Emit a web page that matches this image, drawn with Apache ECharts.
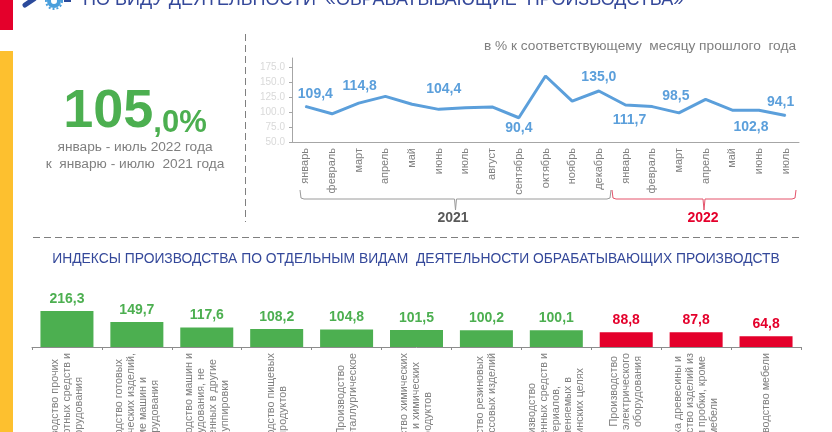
<!DOCTYPE html>
<html>
<head>
<meta charset="utf-8">
<style>
html, body { margin: 0; padding: 0; background: #fff; overflow: hidden; }
#main { width: 832px; height: 432px; }
</style>
<script src="https://cdn.jsdelivr.net/npm/echarts@6/dist/echarts.min.js"></script>
</head>
<body>
<div id="main"></div>
<script>
var months = ['январь', 'февраль', 'март', 'апрель', 'май', 'июнь', 'июль', 'август', 'сентябрь', 'октябрь', 'ноябрь', 'декабрь',
    'январь', 'февраль', 'март', 'апрель', 'май', 'июнь', 'июль'];
var monthValues = [109.4, 97, 114.8, 126, 113, 104.4, 107, 108.5, 90.4, 160, 118, 135, 111.7, 109, 98.5, 121, 103, 102.8, 94.1];
var industries = [
    'Производство прочих\nтранспортных средств и\nоборудования',
    'Производство готовых\nметаллических изделий,\nкроме машин и\nоборудования',
    'Производство машин и\nоборудования, не\nвключенных в другие\nгруппировки',
    'Производство пищевых\nпродуктов',
    'Производство\nметаллургическое',
    'Производство химических\nвеществ и химических\nпродуктов',
    'Производство резиновых\nи пластмассовых изделий',
    'Производство\nлекарственных средств и\nматериалов,\nприменяемых в\nмедицинских целях',
    'Производство\nэлектрического\nоборудования',
    'Обработка древесины и\nпроизводство изделий из\nдерева и пробки, кроме\nмебели',
    'Производство мебели'
];
var industryValues = [216.3, 149.7, 117.6, 108.2, 104.8, 101.5, 100.2, 100.1, 88.8, 87.8, 64.8];

var BLUE = '#5b9fdb', GREEN = '#4caf50', RED = '#e4002b', GRAY = '#7f7f7f', NAVY = '#34489a';

// where the labelled points put their text: month index -> [dx, dy]
var monthLabelSpots = {
    0: [10, -12], 2: [1, -17], 5: [5, -20], 8: [0, 10], 11: [0, -14],
    12: [4, 15], 14: [-3, -17], 17: [-8, 17], 18: [-5, -13]
};

function comma(v) {
    return v.toFixed(1).replace('.', ',');
}

// rotated labels hang from the axis, short lines sit centred under the longest one
var measure = document.createElement('canvas').getContext('2d');
measure.font = '10.8px "Liberation Sans"';
function centerLines(text) {
    var lines = text.split('\n');
    var widths = lines.map(function(l) { return measure.measureText(l).width; });
    var longest = Math.max.apply(null, widths);
    var space = measure.measureText('\u00a0').width;
    return lines.map(function(l, i) {
        var n = Math.round((longest - widths[i]) / 2 / space);
        return l + new Array(n + 1).join('\u00a0');
    }).join('\n');
}

var monthData = monthValues.map(function(v, i) {
    if (!monthLabelSpots[i]) {
        return v;
    }
    return {
        value: v,
        label: {
            show: true,
            position: 'inside',
            formatter: comma(v)
        }
    };
});

var barData = industryValues.map(function(v) {
    var c = v < 100 ? RED : GREEN;
    return {
        value: v,
        itemStyle: { color: c },
        label: { color: c }
    };
});

function bracket(x1, x2, color) {
    var mid = (x1 + x2) / 2;
    return {
        type: 'polyline',
        silent: true,
        shape: { points: [[x1, 190], [x1 + 1, 198], [x1 + 4, 199], [mid - 1, 199], [mid, 210], [mid + 1, 199], [x2 - 4, 199], [x2 - 1, 198], [x2, 190]] },
        style: { stroke: color, fill: null, lineWidth: 1 }
    };
}

function txt(x, y, text, font, color, align) {
    return {
        type: 'text',
        silent: true,
        x: x,
        y: y,
        style: { text: text, font: font, fill: color, align: align || 'center', verticalAlign: 'middle' }
    };
}

var chart = echarts.init(document.getElementById('main'), null, { renderer: 'canvas' });
chart.setOption({
    animation: false,
    backgroundColor: '#fff',
    textStyle: { fontFamily: '"Liberation Sans", Arial, sans-serif' },
    grid: [
        { left: 292, top: 58, width: 507, height: 84, outerBoundsMode: 'none' },
        { left: 32, top: 297, width: 769, height: 50, outerBoundsMode: 'none' }
    ],
    xAxis: [{
        type: 'category',
        gridIndex: 0,
        data: months,
        axisTick: { show: false },
        axisLine: { lineStyle: { color: '#a6a6a6' } },
        axisLabel: { interval: 0, rotate: 90, margin: 6, fontSize: 11, color: GRAY }
    }, {
        type: 'category',
        gridIndex: 1,
        data: industries,
        axisTick: { show: true, length: 3, alignWithLabel: false, lineStyle: { color: '#8c8c8c' } },
        axisLine: { lineStyle: { color: '#8c8c8c' } },
        axisLabel: {
            interval: 0,
            rotate: 90,
            margin: 6,
            fontSize: 10.8,
            lineHeight: 12,
            color: GRAY,
            hideOverlap: false,
            formatter: centerLines
        }
    }],
    yAxis: [{
        type: 'value',
        gridIndex: 0,
        min: 50,
        max: 190,
        interval: 25,
        splitLine: { show: false },
        axisLine: { show: true, lineStyle: { color: '#a6a6a6' } },
        axisTick: { show: true, length: 3, lineStyle: { color: '#a6a6a6' } },
        axisLabel: {
            fontSize: 10,
            margin: 7,
            color: '#d9d9d9',
            showMaxLabel: false,
            formatter: function(v) { return v.toFixed(1); }
        }
    }, {
        type: 'value',
        gridIndex: 1,
        min: 0,
        max: 300,
        show: false,
        splitLine: { show: false }
    }],
    series: [{
        type: 'line',
        xAxisIndex: 0,
        yAxisIndex: 0,
        data: monthData,
        symbol: 'circle',
        symbolSize: 1,
        lineStyle: { color: BLUE, width: 3 },
        itemStyle: { color: BLUE },
        label: { fontSize: 14, fontWeight: 'bold', color: BLUE },
        labelLayout: function(params) {
            var spot = monthLabelSpots[params.dataIndex];
            return spot ? { dx: spot[0], dy: spot[1], hideOverlap: false } : {};
        }
    }, {
        type: 'bar',
        xAxisIndex: 1,
        yAxisIndex: 1,
        data: barData,
        barWidth: 53,
        label: {
            show: true,
            position: 'top',
            distance: 5,
            fontSize: 14,
            fontWeight: 'bold',
            formatter: function(p) { return comma(p.value); }
        }
    }],
    graphic: [
        { type: 'rect', silent: true, shape: { x: 0, y: 0, width: 13, height: 30 }, style: { fill: RED } },
        { type: 'rect', silent: true, shape: { x: 0, y: 51, width: 13, height: 381 }, style: { fill: '#fdc02f' } },
        { type: 'line', silent: true, shape: { x1: 25, y1: 5, x2: 34, y2: -1 }, style: { stroke: '#2b4a9b', lineWidth: 5, lineCap: 'round' } },
        { type: 'circle', silent: true, shape: { cx: 54, cy: 1, r: 8 }, style: { fill: 'none', stroke: '#4a9fdc', lineWidth: 2, lineDash: [2, 2] } },
        { type: 'circle', silent: true, shape: { cx: 54, cy: 1, r: 5 }, style: { fill: 'none', stroke: '#4a9fdc', lineWidth: 4 } },
        { type: 'rect', silent: true, shape: { x: 64, y: 0, width: 7, height: 2 }, style: { fill: '#2b4a9b' } },
        txt(83, 0, 'ПО ВИДУ ДЕЯТЕЛЬНОСТИ  «ОБРАБАТЫВАЮЩИЕ  ПРОИЗВОДСТВА»', '18px "Liberation Sans"', NAVY, 'left'),
        {
            type: 'text',
            silent: true,
            x: 135,
            y: 112,
            style: {
                text: '{big|105}{small|,0%}',
                align: 'center',
                verticalAlign: 'middle',
                rich: {
                    big: { font: 'bold 54px "Liberation Sans"', fill: GREEN, verticalAlign: 'bottom' },
                    small: { font: 'bold 31px "Liberation Sans"', fill: GREEN, verticalAlign: 'bottom' }
                }
            }
        },
        txt(135, 147, 'январь - июль 2022 года', '13.7px "Liberation Sans"', GRAY),
        txt(135, 164, 'к  январю - июлю  2021 года', '13.7px "Liberation Sans"', GRAY),
        txt(796, 46, 'в % к соответствующему  месяцу прошлого  года', '13.7px "Liberation Sans"', GRAY, 'right'),
        {
            type: 'line', silent: true,
            shape: { x1: 245.5, y1: 34, x2: 245.5, y2: 222 },
            style: { stroke: GRAY, lineWidth: 1, lineDash: [7, 4] }
        },
        {
            type: 'line', silent: true,
            shape: { x1: 33, y1: 237.5, x2: 800, y2: 237.5 },
            style: { stroke: GRAY, lineWidth: 1, lineDash: [7, 4] }
        },
        bracket(300, 611, '#9a9a9a'),
        bracket(612, 796, '#e4536b'),
        txt(453, 218, '2021', 'bold 14px "Liberation Sans"', '#595959'),
        txt(703, 218, '2022', 'bold 14px "Liberation Sans"', RED),
        txt(416, 259, 'ИНДЕКСЫ ПРОИЗВОДСТВА ПО ОТДЕЛЬНЫМ ВИДАМ  ДЕЯТЕЛЬНОСТИ ОБРАБАТЫВАЮЩИХ ПРОИЗВОДСТВ', '13.85px "Liberation Sans"', NAVY)
    ]
});
</script>
</body>
</html>
